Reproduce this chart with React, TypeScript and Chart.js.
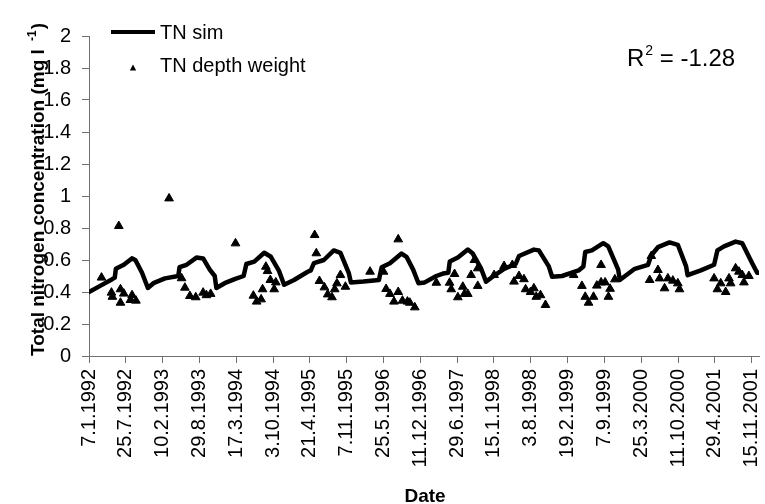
import React, { useEffect, useRef } from "react";
import { Chart, registerables } from "chart.js";

Chart.register(...registerables);

// ---- Data ----
const simDays = [
  0, 63, 126, 140, 146, 189, 233, 252, 288, 320, 350, 413, 485, 492, 530, 584, 620, 656, 683, 692,
  737, 791, 840, 855, 898, 952, 988, 1033, 1060, 1114, 1186, 1205, 1222, 1276, 1330, 1366, 1411, 1423,
  1491, 1575, 1590, 1635, 1698, 1725, 1761, 1790, 1824, 1887, 1923, 1952, 1960, 2004, 2058, 2085,
  2129, 2157, 2193, 2255, 2318, 2336, 2417, 2444, 2498, 2516, 2570, 2660, 2686, 2696, 2732, 2794,
  2821, 2875, 2884, 2965, 3037, 3055, 3091, 3154, 3199, 3244, 3252, 3324, 3396, 3414, 3450, 3513,
  3549, 3603, 3630, 3640,
];
const simValues = [
  0.40, 0.44, 0.48, 0.49, 0.545, 0.57, 0.61, 0.60, 0.52, 0.425, 0.455, 0.485, 0.50, 0.555, 0.57, 0.615, 0.61, 0.54, 0.50, 0.425,
  0.455, 0.48, 0.50, 0.575, 0.59, 0.645, 0.62, 0.53, 0.445, 0.475, 0.525, 0.535, 0.58, 0.60, 0.66, 0.645, 0.52, 0.46,
  0.465, 0.475, 0.555, 0.58, 0.64, 0.62, 0.54, 0.455, 0.46, 0.50, 0.515, 0.52, 0.59, 0.615, 0.665, 0.64,
  0.55, 0.465, 0.495, 0.545, 0.575, 0.625, 0.665, 0.66, 0.56, 0.495, 0.50, 0.535, 0.56, 0.65, 0.66, 0.705,
  0.685, 0.54, 0.475, 0.545, 0.57, 0.63, 0.68, 0.71, 0.695, 0.56, 0.505, 0.535, 0.57, 0.66, 0.685, 0.715,
  0.705, 0.58, 0.52, 0.52,
];

const obsDays = [
  68, 162, 122, 127, 171, 171, 189, 225, 234, 255,
  435, 503, 521, 548, 580, 620, 638, 661,
  796, 893, 911, 935, 943, 961, 970, 985, 1006, 1015,
  1226, 1235, 1252, 1279, 1297, 1320, 1335, 1347, 1366, 1393,
  1527, 1600, 1614, 1635, 1657, 1680, 1680, 1703, 1730, 1743, 1770,
  1887, 1959, 1968, 1986, 2004, 2031, 2040, 2058, 2076, 2094, 2112, 2112,
  2201, 2255, 2300, 2309, 2336, 2363, 2372, 2399, 2417, 2430, 2453, 2480,
  2633, 2678, 2696, 2714, 2741, 2759, 2782, 2782, 2804, 2822, 2831, 2857,
  3046, 3055, 3091, 3100, 3127, 3145, 3172, 3199, 3208,
  3396, 3414, 3432, 3459, 3477, 3486, 3513, 3531, 3549, 3558, 3585,
];
const obsValues = [
  0.49, 0.8125, 0.396, 0.37, 0.417, 0.333, 0.39, 0.35, 0.38, 0.346,
  0.985, 0.486, 0.427, 0.375, 0.367, 0.396, 0.38, 0.388,
  0.704, 0.377, 0.34, 0.354, 0.417, 0.558, 0.531, 0.475, 0.417, 0.46,
  0.756, 0.642, 0.469, 0.429, 0.385, 0.367, 0.417, 0.454, 0.506, 0.433,
  0.527, 0.527, 0.419, 0.388, 0.34, 0.729, 0.40, 0.346, 0.34, 0.333, 0.304,
  0.458, 0.458, 0.417, 0.5125, 0.367, 0.433, 0.388, 0.388, 0.506, 0.60, 0.548, 0.438,
  0.506, 0.5625, 0.569, 0.465, 0.50, 0.48, 0.417, 0.40, 0.423, 0.37, 0.38, 0.319,
  0.506, 0.438, 0.37, 0.333, 0.37, 0.44, 0.569, 0.46, 0.46, 0.37, 0.42, 0.479,
  0.475, 0.625, 0.5375, 0.485, 0.423, 0.485, 0.471, 0.454, 0.417,
  0.485, 0.417, 0.454, 0.40, 0.485, 0.454, 0.548, 0.527, 0.506, 0.46, 0.50,
];

const xTickDays = [0, 200, 400, 600, 800, 1000, 1200, 1400, 1600, 1800, 2000, 2200, 2400, 2600, 2800, 3000, 3200, 3400, 3600];
const startDateUTC = Date.UTC(1992, 0, 7);
const legendLabels = ["TN sim", "TN depth weight"];
const r2Value = "-1.28";
const yTitleMain = "Total nitrogen concentration (mg l";
const yTitleSup = "-1";
const xTitle = "Date";

const FONT = '"Liberation Sans", Arial, Helvetica, sans-serif';

function dayLabel(d: number): string {
  const dt = new Date(startDateUTC + d * 86400000);
  return `${dt.getUTCDate()}.${dt.getUTCMonth() + 1}.${dt.getUTCFullYear()}`;
}

const textPlugin = {
  id: "customText",
  afterDraw(chart: any) {
    const ctx = chart.ctx as CanvasRenderingContext2D;
    const { left, top, right, bottom } = chart.chartArea;
    ctx.save();
    ctx.fillStyle = "#000";
    ctx.strokeStyle = "#000";

    // Legend
    ctx.lineWidth = 4;
    ctx.lineCap = "butt";
    ctx.beginPath();
    ctx.moveTo(left + 22, top - 4);
    ctx.lineTo(left + 66, top - 4);
    ctx.stroke();
    ctx.font = `20px ${FONT}`;
    ctx.textBaseline = "alphabetic";
    ctx.textAlign = "left";
    ctx.fillText(legendLabels[0], left + 71, top + 2.5);
    // triangle marker
    const tx = left + 44, ty = top + 32;
    ctx.beginPath();
    ctx.moveTo(tx, ty - 3.5);
    ctx.lineTo(tx + 3.2, ty + 2.5);
    ctx.lineTo(tx - 3.2, ty + 2.5);
    ctx.closePath();
    ctx.fill();
    ctx.fillText(legendLabels[1], left + 71, top + 35.5);

    // R^2 annotation
    ctx.font = `24px ${FONT}`;
    const rx = 627, ry = 65.5;
    ctx.fillText("R", rx, ry);
    const rw = ctx.measureText("R").width;
    ctx.font = `14px ${FONT}`;
    ctx.fillText("2", rx + rw + 1, ry - 10.5);
    const sw = ctx.measureText("2").width;
    ctx.font = `24px ${FONT}`;
    ctx.fillText(" = " + r2Value, rx + rw + 1 + sw, ry);

    // Y axis title (rotated)
    ctx.save();
    ctx.translate(44, bottom);
    ctx.rotate(-Math.PI / 2);
    ctx.font = `bold 19px ${FONT}`;
    ctx.fillText(yTitleMain, 0, 0);
    let w = ctx.measureText(yTitleMain + " ").width + 3;
    ctx.font = `bold 12px ${FONT}`;
    ctx.fillText(yTitleSup, w, -8);
    w += ctx.measureText(yTitleSup).width + 1;
    ctx.font = `bold 19px ${FONT}`;
    ctx.fillText(")", w, 0);
    ctx.restore();

    // X axis title
    ctx.font = `bold 19px ${FONT}`;
    ctx.textAlign = "center";
    ctx.fillText(xTitle, (left + right) / 2 + 1, 502);

    ctx.restore();
  },
};

export default function App() {
  const canvasRef = useRef<HTMLCanvasElement | null>(null);

  useEffect(() => {
    if (!canvasRef.current) return;
    const axisColor = "#707070";
    const chart = new Chart(canvasRef.current, {
      type: "scatter",
      data: {
        datasets: [
          {
            type: "line",
            label: legendLabels[0],
            data: simDays.map((d, i) => ({ x: d, y: simValues[i] })),
            borderColor: "#000",
            backgroundColor: "#000",
            borderWidth: 4.5,
            pointRadius: 0,
            tension: 0,
            borderJoinStyle: "round",
            borderCapStyle: "round",
            fill: false,
          } as any,
          {
            type: "scatter",
            label: legendLabels[1],
            data: obsDays.map((d, i) => ({ x: d, y: obsValues[i] })),
            pointStyle: "triangle",
            pointRadius: 5,
            borderWidth: 1,
            borderColor: "#000",
            backgroundColor: "#000",
          } as any,
        ],
      },
      options: {
        responsive: false,
        animation: false,
        devicePixelRatio: 1,
        layout: { padding: { top: 36, left: 0, right: 0, bottom: 0 } },
        plugins: {
          legend: { display: false },
          tooltip: { enabled: false },
        },
        scales: {
          x: {
            type: "linear",
            min: 0,
            max: 3640,
            afterBuildTicks: (scale: any) => {
              scale.ticks = xTickDays.map((v) => ({ value: v }));
            },
            afterFit: (scale: any) => {
              scale.height = 148;
              scale.paddingLeft = 0;
              scale.paddingRight = 0;
            },
            ticks: {
              autoSkip: false,
              minRotation: 90,
              maxRotation: 90,
              padding: 6,
              color: "#000",
              font: { family: FONT, size: 20 },
              callback: (v: any) => dayLabel(Number(v)),
            },
            grid: { drawOnChartArea: false, drawTicks: true, tickLength: 7, color: axisColor },
            border: { display: true, color: axisColor, width: 1 },
          },
          y: {
            type: "linear",
            min: 0,
            max: 2,
            afterFit: (scale: any) => {
              scale.width = 89;
              scale.paddingTop = 0;
              scale.paddingBottom = 0;
            },
            ticks: {
              stepSize: 0.2,
              padding: 11,
              color: "#000",
              font: { family: FONT, size: 20 },
              callback: (v: any) => String(Math.round(Number(v) * 10) / 10),
            },
            grid: { drawOnChartArea: false, drawTicks: true, tickLength: 7, color: axisColor },
            border: { display: true, color: axisColor, width: 1 },
          },
        },
      },
      plugins: [textPlugin],
    } as any);
    return () => chart.destroy();
  }, []);

  return (
    <div style={{ position: "fixed", left: 0, top: 0, width: 765, height: 504, background: "#fff" }}>
      <canvas ref={canvasRef} width={765} height={504} style={{ display: "block" }} />
    </div>
  );
}
